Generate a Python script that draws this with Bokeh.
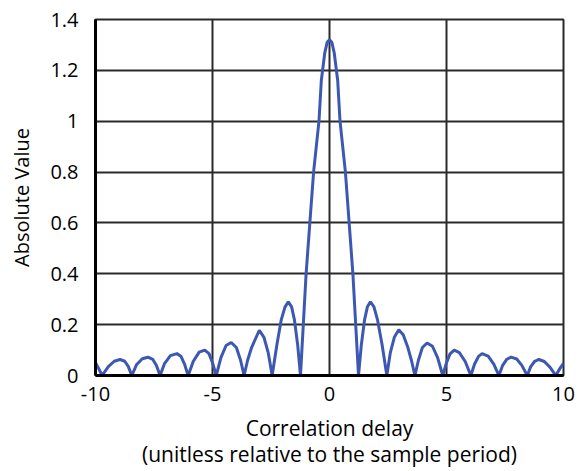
from bokeh.plotting import figure
from bokeh.models import FixedTicker, Range1d
from bokeh.embed import file_html
from bokeh.resources import INLINE

# Data (x = correlation delay, y = absolute value)
delay = [
    -10.0, -9.85, -9.72, -9.45, -9.2, -8.95, -8.75, -8.6, -8.45,
    -8.25, -8.0, -7.76, -7.55, -7.4, -7.24,
    -7.05, -6.8, -6.52, -6.35, -6.2, -6.04,
    -5.82, -5.57, -5.33, -5.15, -5.0, -4.84,
    -4.64, -4.42, -4.2, -3.98, -3.8, -3.65,
    -3.5, -3.33, -3.0, -2.8, -2.62, -2.45,
    -2.25, -2.06, -1.9, -1.76, -1.62, -1.5, -1.36, -1.24,
    -1.12, -1.0, -0.84, -0.68, -0.45, -0.35, -0.2, -0.1, 0.0,
    0.1, 0.2, 0.35, 0.45, 0.68, 0.84, 1.0, 1.12, 1.24,
    1.36, 1.5, 1.62, 1.75, 1.9, 2.05, 2.25, 2.45,
    2.6, 2.77, 2.96, 3.15, 3.35, 3.5, 3.65,
    3.8, 3.97, 4.17, 4.4, 4.62, 4.84,
    5.0, 5.15, 5.33, 5.55, 5.8, 6.04,
    6.2, 6.37, 6.52, 6.78, 7.02, 7.24,
    7.4, 7.58, 7.76, 8.0, 8.22, 8.45,
    8.6, 8.77, 8.95, 9.18, 9.42, 9.67,
    9.85, 10.0,
]
abs_value = [
    0.05, 0.025, 0.0, 0.035, 0.056, 0.063, 0.056, 0.036, 0.0,
    0.042, 0.066, 0.072, 0.063, 0.04, 0.0,
    0.047, 0.078, 0.086, 0.076, 0.046, 0.0,
    0.056, 0.092, 0.10, 0.086, 0.05, 0.0,
    0.07, 0.118, 0.13, 0.11, 0.06, 0.0,
    0.06, 0.11, 0.178, 0.15, 0.09, 0.0,
    0.12, 0.22, 0.27, 0.29, 0.27, 0.22, 0.12, 0.0,
    0.2, 0.4, 0.6, 0.8, 1.0, 1.16, 1.27, 1.31, 1.32,
    1.31, 1.27, 1.16, 1.0, 0.8, 0.6, 0.4, 0.2, 0.0,
    0.12, 0.22, 0.27, 0.29, 0.27, 0.22, 0.12, 0.0,
    0.09, 0.15, 0.18, 0.16, 0.11, 0.06, 0.0,
    0.06, 0.11, 0.128, 0.115, 0.07, 0.0,
    0.05, 0.085, 0.10, 0.09, 0.055, 0.0,
    0.045, 0.075, 0.086, 0.076, 0.045, 0.0,
    0.04, 0.064, 0.072, 0.065, 0.04, 0.0,
    0.035, 0.056, 0.063, 0.055, 0.033, 0.0,
    0.028, 0.048,
]

x_ticks = [-10, -5, 0, 5, 10]
x_tick_labels = {-10: "-10", -5: "-5", 0: "0", 5: "5", 10: "10"}
y_ticks = [0, 0.2, 0.4, 0.6, 0.8, 1.0, 1.2, 1.4]
y_tick_labels = {0: "0", 0.2: "0.2", 0.4: "0.4", 0.6: "0.6", 0.8: "0.8",
                 1.0: "1", 1.2: "1.2", 1.4: "1.4"}

FONT = "Open Sans"
GRID = "#2a2a2a"

p = figure(
    width=577, height=471,
    output_backend="svg", toolbar_location=None,
    x_range=Range1d(-10, 10), y_range=Range1d(0, 1.4),
    min_border_left=95, min_border_top=19, min_border_right=14,
    min_border_bottom=95,
)
p.line(delay, abs_value, line_color="#3c58b2", line_width=3)

p.xaxis.ticker = FixedTicker(ticks=x_ticks)
p.yaxis.ticker = FixedTicker(ticks=y_ticks)
p.yaxis.major_label_overrides = y_tick_labels
p.xaxis.major_label_overrides = x_tick_labels

for ax in (p.xaxis[0], p.yaxis[0]):
    ax.axis_line_color = "black"
    ax.axis_line_width = 3
    ax.major_tick_line_color = None
    ax.minor_tick_line_color = None
    ax.major_label_text_font = FONT
    ax.major_label_text_font_size = "20px"
    ax.major_label_text_color = "black"
    ax.axis_label_text_font = FONT
    ax.axis_label_text_font_style = "normal"
    ax.axis_label_text_color = "black"

p.xaxis.axis_label_text_font_size = "21px"
p.xaxis.axis_label_text_line_height = 0.95
p.yaxis.axis_label_text_font_size = "20px"
p.xaxis.major_label_standoff = 5
p.yaxis.major_label_standoff = 11
p.xaxis.axis_label = "Correlation delay\n(unitless relative to the sample period)"
p.xaxis.axis_label_standoff = 10
p.yaxis.axis_label = "Absolute Value"
p.yaxis.axis_label_standoff = 12

p.xgrid.grid_line_color = GRID
p.ygrid.grid_line_color = GRID
p.xgrid.grid_line_width = 2
p.ygrid.grid_line_width = 2
p.outline_line_color = GRID
p.outline_line_width = 2

p.background_fill_color = "white"
p.border_fill_color = "white"

open("out.html", "w").write(file_html(p, INLINE))
